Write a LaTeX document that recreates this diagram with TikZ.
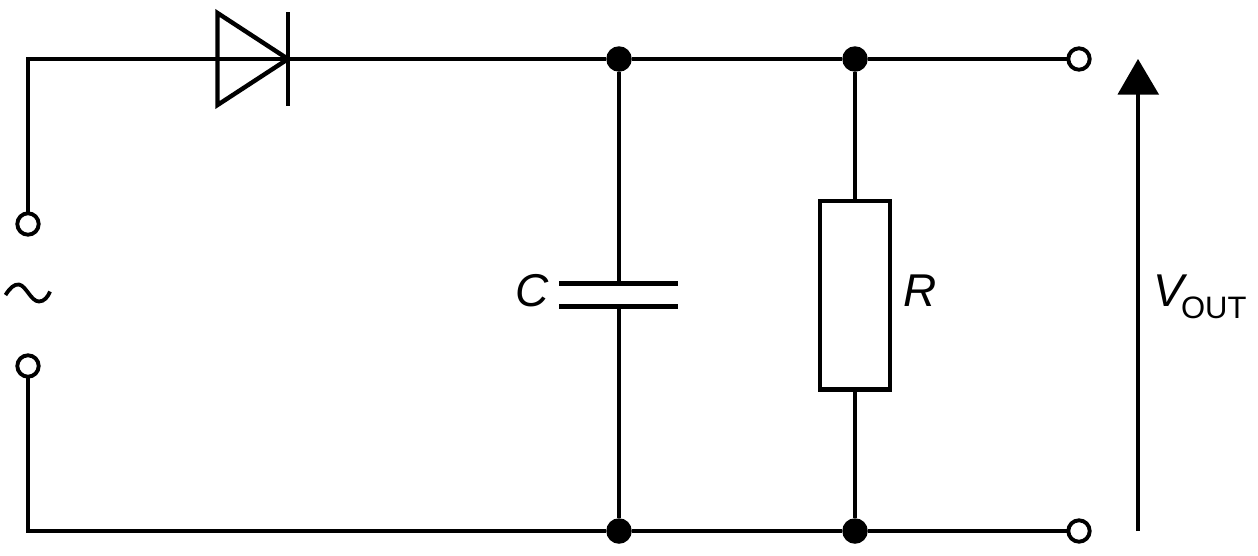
\documentclass[tikz,border=0pt]{standalone}
\usepackage{fontspec}
\setmainfont{Liberation Sans}
\usetikzlibrary{arrows.meta}
\tikzset{
  wire/.style={line width=4.4pt,line cap=butt,line join=miter},
  terminal/.style={circle,draw,fill=white,line width=3.9pt,minimum size=21.4pt,inner sep=0pt,outer sep=0pt},
  junction/.style={circle,fill=black,minimum size=25.5pt,inner sep=0pt,outer sep=0pt},
  resbox/.style={rectangle,draw,fill=white,line width=4.4pt,minimum width=70pt,minimum height=188.6pt,inner sep=0pt,outer sep=0pt},
  sym/.style={anchor=base west,inner sep=0pt,outer sep=0pt,font=\fontsize{46}{46}\selectfont\itshape},
  sub/.style={anchor=base west,inner sep=0pt,outer sep=0pt,font=\fontsize{31}{31}\selectfont}
}
\begin{document}
\begin{tikzpicture}[x=1pt,y=-1pt]
\useasboundingbox (0,0) rectangle (1258,555);
% terminals and junctions
\node[terminal] (inA) at (28,224) {};
\node[terminal] (inB) at (28,366) {};
\node[terminal] (outA) at (1079,59) {};
\node[terminal] (outB) at (1079,531) {};
\node[junction] (jTC) at (619,59) {};
\node[junction] (jTR) at (855,59) {};
\node[junction] (jBC) at (619,531) {};
\node[junction] (jBR) at (855,531) {};
\node[resbox] (res) at (855,295) {};
% points
\coordinate (cornerT) at (28,59);
\coordinate (cornerB) at (28,531);
\coordinate (dTip) at (288,59);
\coordinate (capT) at (619,283.5);
\coordinate (capB) at (619,306.5);
\coordinate (arrowFoot) at (1138,531);
\coordinate (arrowTip) at (1138,59);
% wires
\draw[wire] (inA) -- (cornerT) -- (dTip) -- (jTC) -- (jTR) -- (outA);
\draw[wire] (inB) -- (cornerB) -- (jBC) -- (jBR) -- (outB);
\draw[wire] (jTC) -- (capT);
\draw[wire] (capB) -- (jBC);
\draw[wire] (jTR) -- (res);
\draw[wire] (res) -- (jBR);
% diode
\draw[wire] (217.5,13) -- (dTip) -- (217.5,105) -- cycle;
\draw[wire] (288,12) -- (288,106);
% capacitor plates
\draw[wire] (559,283.5) -- (678,283.5);
\draw[wire] (559,306.5) -- (678,306.5);
% AC symbol
\draw[line width=3.8pt] (5.5,295) .. controls (10,288) and (14,284) .. (19,284.5)
  .. controls (26,285.5) and (31,301.5) .. (39,301.5)
  .. controls (44,301.5) and (48,297) .. (50,291.5);
% output voltage arrow
\draw[wire] (arrowFoot) -- (1138,90);
\fill (arrowTip) -- (1159,94.5) -- (1117.5,94.5) -- cycle;
% labels
\node[sym] (lC) at (515,306.5) {C};
\node[sym] (lR) at (903,306.5) {R};
\node[sym] (lV) at (1153,306.5) {V};
\node[sub] (lO) at (1181,318.5) {OUT};
\end{tikzpicture}
\end{document}
